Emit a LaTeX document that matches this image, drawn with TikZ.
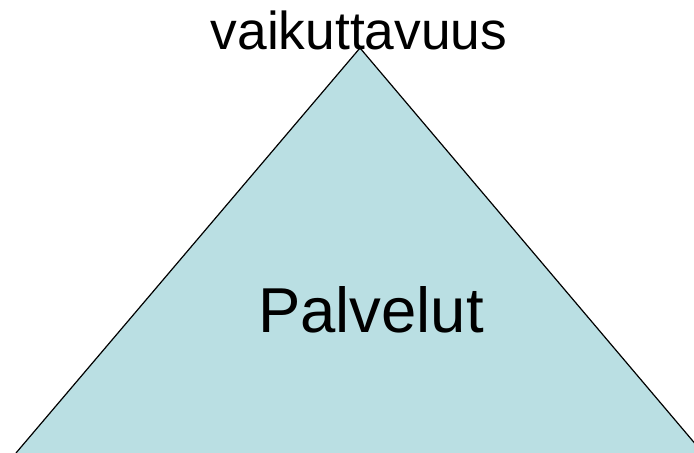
\documentclass[tikz,border=0pt]{standalone}
\usepackage{fontspec}
\setmainfont{Liberation Sans}
\usepackage{tikz}
\definecolor{pale}{RGB}{186,223,227}

\begin{document}
\begin{tikzpicture}[x=0.75pt,y=-0.75pt]
\useasboundingbox (0,0) rectangle (694,453);
\clip (0,0) rectangle (694,453);
\coordinate (top) at (360,48);
\coordinate (left) at (16,453);
\coordinate (right) at (703,453);
\draw [fill=pale, line width=0.9pt, line join=miter] (left)--(top)--(right);
\node [anchor=base, inner sep=0pt, font=\fontsize{40}{48}\selectfont] (effect) at (359,50) {vaikuttavuus};
\node [anchor=base, inner sep=0pt, font=\fontsize{47.6}{56}\selectfont] (services) at (371,332) {Palvelut};
\end{tikzpicture}
\end{document}
